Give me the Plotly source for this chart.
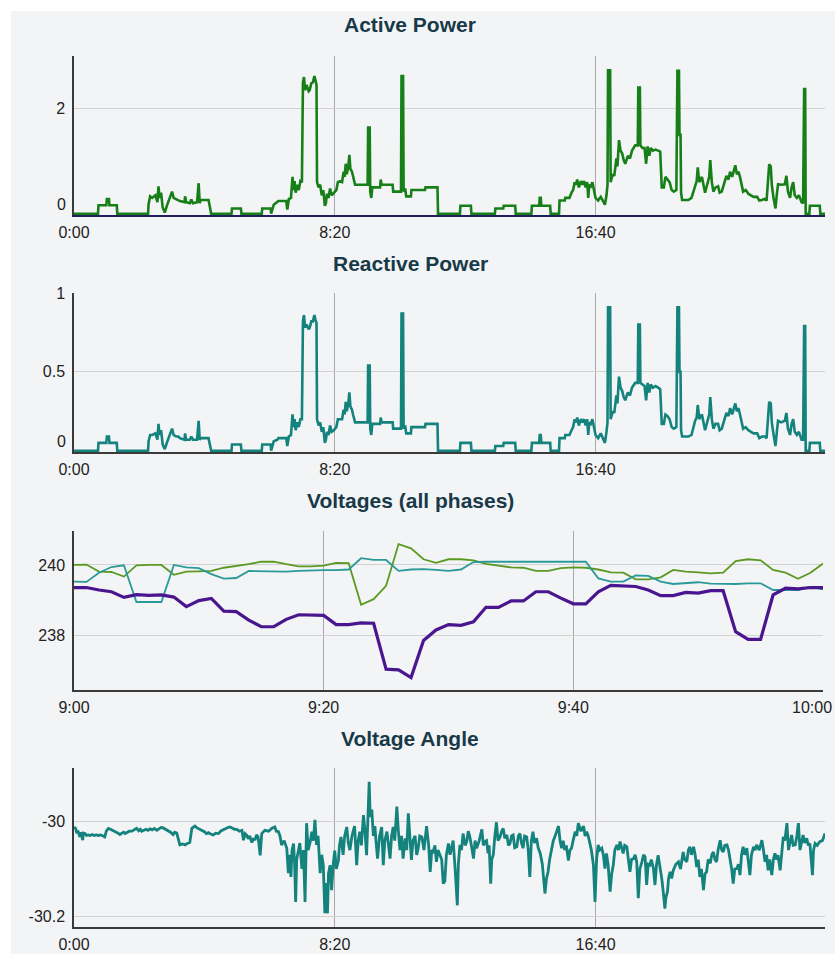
import plotly.graph_objects as go

W, H = 835, 954

# ---------------------------------------------------------------- power, one day
# minutes since midnight
power_minutes = [
    0, 46, 47, 62, 63, 67, 68, 82, 83,
    142, 143, 146, 150, 156, 160, 162, 164, 167, 170, 174, 178, 184, 188, 191, 196,
    200, 203, 212, 213, 215, 222, 225, 228, 236, 239, 241, 243, 258, 260, 263,
    302, 303, 320, 321,
    360, 361, 377, 378, 383, 390, 392, 407, 409, 412, 416, 419, 421, 423, 425, 428, 431, 434, 437,
    439, 441, 443, 446, 450, 452, 455, 458, 461, 463, 465,
    466, 469, 472, 475, 478, 481, 483, 485, 488, 491, 494, 498, 503, 506, 510, 514, 517, 519, 521, 523,
    526, 528, 530, 533, 535, 539, 563, 564, 567, 568, 570, 572, 587, 588, 590, 611, 612, 627, 628, 631,
    632, 635, 637, 646, 647, 673, 674, 697, 698,
    740, 741, 761, 762, 807, 808, 823, 824, 846, 847, 877, 878, 892, 893, 895, 896, 913, 914, 930, 931,
    941, 942, 950,
    954, 957, 960, 962, 965, 968, 972, 975, 978, 981, 984, 986, 988, 991, 994, 997, 1000, 1005, 1010, 1014,
    1018, 1021, 1023, 1024, 1028, 1029, 1033, 1036, 1040, 1042, 1045, 1048, 1051, 1054, 1057,
    1062, 1066, 1070, 1076, 1081, 1082, 1085, 1086, 1090, 1094, 1097, 1100, 1103, 1106, 1110,
    1115, 1120, 1124, 1127, 1131, 1134, 1138, 1142, 1146, 1150, 1155, 1157, 1160, 1161, 1163,
    1164, 1166, 1178, 1184,
    1191, 1194, 1196, 1199, 1204, 1207, 1210, 1214, 1218, 1220, 1223, 1226, 1230, 1235, 1238,
    1242, 1246, 1251, 1255, 1258, 1262, 1268, 1271, 1274, 1277, 1280, 1283, 1288, 1293, 1298,
    1303, 1310, 1314, 1319, 1324, 1328, 1330, 1333, 1336, 1338, 1341, 1345, 1348, 1350, 1356,
    1363, 1366, 1369, 1373, 1376, 1379, 1382, 1386, 1390, 1395, 1398, 1400, 1402, 1403, 1410,
    1411, 1430, 1431, 1440,
]

active_power = [
    0, 0, 0.16, 0.16, 0.28, 0.28, 0.16, 0.16, 0,
    0, 0.18, 0.33, 0.3, 0.35, 0.22, 0.52, 0.3, 0.4, 0.12, 0.02, 0.15, 0.3, 0.42, 0.3, 0.28,
    0.26, 0.24, 0.22, 0.33, 0.22, 0.2, 0.27, 0.2, 0.22, 0.58, 0.2, 0.26, 0.26, 0.12, 0,
    0, 0.1, 0.1, 0,
    0, 0.1, 0.1, 0, 0.17, 0.22, 0.24, 0.24, 0.08, 0.28, 0.3, 0.7, 0.45, 0.62, 0.4, 0.55, 0.45, 0.62, 0.6,
    2.5, 2.6, 2.35, 2.45, 2.33, 2.35, 2.48, 2.5, 2.62, 2.5, 2.45,
    0.6, 0.5, 0.55, 0.35, 0.45, 0.15, 0.2, 0.38, 0.3, 0.48, 0.35, 0.4, 0.45, 0.6, 0.62, 0.6, 0.8, 0.7, 0.95, 0.75,
    0.9, 1.12, 0.85, 0.8, 0.7, 0.55, 0.55, 1.64, 1.64, 0.42, 0.3, 0.5, 0.5, 0.65, 0.55, 0.55, 0.42, 0.42, 2.62, 2.62,
    0.42, 0.48, 0.33, 0.33, 0.45, 0.45, 0.5, 0.5, 0,
    0, 0.15, 0.15, 0, 0, 0.1, 0.1, 0.15, 0.15, 0, 0, 0.15, 0.15, 0.3, 0.3, 0.15, 0.15, 0, 0, 0.25,
    0.25, 0.3, 0.3,
    0.4, 0.45, 0.6, 0.55, 0.65, 0.5, 0.62, 0.55, 0.62, 0.5, 0.6, 0.3, 0.55, 0.52, 0.6, 0.45, 0.3, 0.25, 0.32, 0.25,
    0.17, 0.35, 0.55, 2.73, 2.73, 0.6, 0.75, 0.72, 1.05, 0.9, 1.4, 1.2, 1.15, 1.02, 0.95,
    1.1, 1.05, 1.2, 1.3, 1.3, 2.4, 2.4, 1.3, 1.25, 1.25, 0.95, 1.28, 1.1, 1.25, 1.2,
    1.22, 1.2, 1.18, 0.5, 0.5, 0.7, 0.65, 0.6, 0.45, 0.42, 0.45, 2.72, 2.72, 1.5, 1.5,
    0.4, 0.26, 0.26, 0.3,
    0.56, 0.62, 0.88, 0.6, 0.7, 0.55, 0.4, 0.55, 0.7, 1.02, 0.6, 0.42, 0.5, 0.52, 0.4,
    0.42, 0.55, 0.72, 0.65, 0.8, 0.7, 0.92, 0.75, 0.8, 0.7, 0.55, 0.42, 0.45, 0.38, 0.35,
    0.32, 0.32, 0.25, 0.26, 0.28, 0.25, 0.5, 0.94, 0.9, 0.55, 0.32, 0.1, 0.4, 0.56, 0.55,
    0.56, 0.72, 0.42, 0.3, 0.5, 0.6, 0.35, 0.3, 0.35, 0.22, 0.2, 2.37, 2.37, 0, 0,
    0.15, 0.15, 0, 0,
]

reactive_power = [
    0, 0, 0.05, 0.05, 0.09, 0.09, 0.05, 0.05, 0,
    0, 0.06, 0.1, 0.1, 0.11, 0.07, 0.17, 0.1, 0.13, 0.04, 0.01, 0.05, 0.1, 0.14, 0.1, 0.09,
    0.09, 0.08, 0.07, 0.11, 0.07, 0.07, 0.09, 0.07, 0.07, 0.19, 0.07, 0.08, 0.08, 0.04, 0,
    0, 0.04, 0.04, 0,
    0, 0.04, 0.04, 0, 0.06, 0.07, 0.08, 0.08, 0.03, 0.09, 0.1, 0.23, 0.15, 0.2, 0.13, 0.18, 0.15, 0.2, 0.2,
    0.82, 0.86, 0.78, 0.8, 0.77, 0.78, 0.82, 0.82, 0.86, 0.83, 0.81,
    0.2, 0.16, 0.18, 0.12, 0.15, 0.05, 0.07, 0.12, 0.1, 0.16, 0.12, 0.13, 0.15, 0.2, 0.2, 0.2, 0.26, 0.23, 0.31, 0.25,
    0.3, 0.37, 0.28, 0.26, 0.23, 0.18, 0.18, 0.54, 0.54, 0.14, 0.1, 0.17, 0.17, 0.21, 0.18, 0.18, 0.14, 0.14, 0.87, 0.87,
    0.14, 0.16, 0.11, 0.11, 0.15, 0.15, 0.17, 0.17, 0,
    0, 0.05, 0.05, 0, 0, 0.03, 0.03, 0.05, 0.05, 0, 0, 0.05, 0.05, 0.1, 0.1, 0.05, 0.05, 0, 0, 0.08,
    0.08, 0.1, 0.1,
    0.13, 0.15, 0.2, 0.18, 0.21, 0.16, 0.2, 0.18, 0.2, 0.16, 0.2, 0.1, 0.18, 0.17, 0.2, 0.15, 0.1, 0.08, 0.11, 0.08,
    0.05, 0.12, 0.18, 0.91, 0.91, 0.2, 0.25, 0.24, 0.35, 0.3, 0.47, 0.4, 0.38, 0.34, 0.32,
    0.37, 0.35, 0.4, 0.43, 0.43, 0.8, 0.8, 0.43, 0.42, 0.41, 0.32, 0.43, 0.37, 0.42, 0.4,
    0.41, 0.4, 0.39, 0.17, 0.17, 0.23, 0.22, 0.2, 0.15, 0.14, 0.15, 0.91, 0.91, 0.5, 0.5,
    0.13, 0.09, 0.09, 0.1,
    0.19, 0.21, 0.29, 0.2, 0.23, 0.18, 0.13, 0.18, 0.23, 0.34, 0.2, 0.14, 0.17, 0.17, 0.13,
    0.14, 0.18, 0.24, 0.22, 0.27, 0.23, 0.3, 0.25, 0.27, 0.23, 0.18, 0.14, 0.15, 0.13, 0.12,
    0.11, 0.11, 0.08, 0.09, 0.09, 0.08, 0.17, 0.31, 0.3, 0.18, 0.11, 0.03, 0.13, 0.19, 0.18,
    0.19, 0.24, 0.14, 0.1, 0.17, 0.2, 0.12, 0.1, 0.12, 0.07, 0.07, 0.79, 0.79, 0, 0,
    0.05, 0.05, 0, 0,
]

# ---------------------------------------------------------------- voltages, 9:00-10:00
voltage_minutes = [
    0, 1, 2, 3, 4, 5, 6, 7, 8, 9, 10, 11, 12, 13, 14, 15, 16, 17, 18, 19,
    20, 21, 22, 23, 24, 25, 26, 27, 28, 29, 30, 31, 32, 33, 34, 35, 36, 37, 38, 39,
    40, 41, 42, 43, 44, 45, 46, 47, 48, 49, 50, 51, 52, 53, 54, 55, 56, 57, 58, 59, 60,
]
voltage_l1 = [
    240.00, 240.01, 239.81, 239.80, 239.67, 239.99, 240.00, 240.00, 239.72, 239.81,
    239.82, 239.83, 239.92, 239.96, 240.02, 240.09, 240.09, 240.02, 239.96, 239.96,
    239.98, 240.06, 240.05, 238.87, 239.03, 239.41, 240.59, 240.47, 240.16, 240.06,
    240.16, 240.16, 240.13, 240.03, 239.98, 239.93, 239.92, 239.83, 239.83, 239.91,
    239.93, 239.92, 239.87, 239.79, 239.78, 239.59, 239.59, 239.65, 239.86, 239.81,
    239.79, 239.76, 239.78, 240.11, 240.16, 240.13, 239.86, 239.78, 239.61, 239.78, 240.04,
]
voltage_l2 = [
    239.53, 239.52, 239.78, 239.94, 239.99, 238.95, 238.95, 238.95, 240.00, 239.93,
    239.91, 239.74, 239.61, 239.63, 239.83, 239.82, 239.83, 239.81, 239.83, 239.85,
    239.85, 239.85, 239.87, 240.19, 240.14, 240.14, 239.83, 239.87, 239.88, 239.86,
    239.83, 239.87, 240.08, 240.09, 240.09, 240.10, 240.11, 240.11, 240.10, 240.09,
    240.10, 240.09, 239.62, 239.53, 239.53, 239.70, 239.69, 239.53, 239.46, 239.48,
    239.51, 239.47, 239.46, 239.46, 239.48, 239.48, 239.29, 239.29, 239.29, 239.38, 239.31,
]
voltage_l3 = [
    239.36, 239.36, 239.29, 239.24, 239.08, 239.16, 239.14, 239.15, 239.09, 238.82,
    238.99, 239.05, 238.69, 238.68, 238.44, 238.25, 238.25, 238.46, 238.59, 238.58,
    238.57, 238.31, 238.31, 238.36, 238.35, 237.05, 237.03, 236.81, 237.86, 238.16,
    238.31, 238.29, 238.39, 238.80, 238.80, 238.98, 238.98, 239.24, 239.24, 239.06,
    238.90, 238.90, 239.24, 239.42, 239.40, 239.39, 239.29, 239.13, 239.13, 239.22,
    239.20, 239.27, 239.27, 238.11, 237.89, 237.89, 239.15, 239.34, 239.32, 239.36, 239.36,
]

# ---------------------------------------------------------------- voltage angle, one day
angle_minutes = [
    0, 3, 5, 8, 10, 11.5, 13, 16.7, 18, 21,
    24, 27, 31, 35, 39, 43, 47, 51, 56, 59,
    62, 66, 70, 74, 79, 83, 88, 92, 95, 98,
    102, 106, 111, 115, 120, 124, 127, 130, 134, 138,
    142, 146, 150, 154, 159, 163, 167, 171, 176, 181,
    185, 190, 193, 197, 200, 203, 208, 213, 217, 222,
    226, 229, 232, 236, 240, 245, 250, 254, 258, 262,
    267, 272, 277, 281, 286, 290, 295, 299, 303, 308,
    312, 317, 322, 325, 328, 331, 334, 337, 341, 344,
    347, 350, 353, 355, 357,
    360, 366, 373, 379, 385, 388, 392, 395, 398, 403,
    408, 411, 414, 416, 418, 421, 423, 425, 427, 430,
    433, 437, 440, 443, 446, 449, 453, 456, 459, 462,
    465, 468, 472, 475, 478, 481, 483, 486, 488, 491,
    494, 497, 500, 503, 507, 509, 512, 516, 519, 523,
    526, 529, 533, 538, 542, 545, 548, 551, 555, 558,
    561, 563, 566, 568, 571, 574, 577, 579, 582, 586,
    590, 593, 596, 600, 603, 606, 609, 612, 615, 619,
    622, 625, 628, 631, 635, 638, 641, 644, 647, 650,
    654, 657, 660, 663, 667, 671, 676, 680, 683, 686,
    689, 692, 695, 698, 702, 705, 708,
    711, 714, 718, 721, 724, 727, 731, 735, 737, 740,
    743, 746, 750, 753, 756, 759, 762, 766, 769, 772,
    777, 782, 785, 788, 791, 794, 796, 799, 801, 804,
    807, 810, 813, 817, 820, 823, 826, 830, 833, 836,
    839, 842, 845, 849, 852, 855, 858, 861, 864, 868,
    871, 874, 877, 880, 883, 887, 890, 894, 898, 903,
    906, 909, 912, 916, 919, 922, 925, 929, 932, 935,
    938, 941, 944, 948, 951, 954, 957, 961, 964, 967,
    972, 977, 980, 983, 986, 989, 992, 996, 999, 1002,
    1005, 1008, 1012, 1015, 1018, 1021, 1024, 1028, 1031, 1034,
    1037, 1041, 1044, 1047, 1050, 1053, 1056, 1060, 1063, 1066,
    1069, 1073, 1076, 1079, 1082, 1085, 1089, 1092, 1095, 1098,
    1101, 1104, 1107, 1111, 1114, 1117, 1120, 1123, 1127, 1130,
    1133, 1135, 1138, 1140, 1143, 1146, 1149, 1154, 1159, 1163,
    1168, 1171, 1175, 1178, 1181, 1184, 1188, 1191, 1194, 1197,
    1200, 1203, 1207, 1210, 1213, 1216, 1220, 1223, 1226, 1229,
    1232, 1235, 1239, 1242, 1245, 1248, 1252, 1255, 1258, 1261,
    1264, 1267, 1271, 1274, 1277, 1280, 1283, 1286, 1290, 1293,
    1296, 1299, 1303, 1306, 1309, 1314, 1319, 1322, 1325, 1328,
    1331, 1334, 1338, 1341, 1344, 1347, 1350, 1354, 1357, 1360,
    1363, 1367, 1370, 1373, 1376, 1379, 1383, 1386, 1389, 1392,
    1395, 1398, 1401, 1405, 1408, 1411, 1416, 1418, 1421, 1425,
    1430, 1435, 1440,
]
voltage_angle = [
    -30.011, -30.014, -30.022, -30.021, -30.028, -30.032, -30.022, -30.039, -30.024, -30.025,
    -30.029, -30.028, -30.029, -30.027, -30.029, -30.028, -30.029, -30.028, -30.030, -30.032,
    -30.020, -30.014, -30.016, -30.019, -30.021, -30.023, -30.027, -30.024, -30.022, -30.025,
    -30.022, -30.020, -30.020, -30.017, -30.014, -30.019, -30.016, -30.020, -30.018, -30.016,
    -30.018, -30.015, -30.017, -30.014, -30.018, -30.015, -30.012, -30.013, -30.016, -30.018,
    -30.022, -30.027, -30.022, -30.024, -30.035, -30.049, -30.047, -30.049, -30.046, -30.044,
    -30.014, -30.011, -30.009, -30.013, -30.015, -30.018, -30.021, -30.025, -30.023, -30.026,
    -30.028, -30.024, -30.025, -30.020, -30.018, -30.015, -30.012, -30.011, -30.013, -30.016,
    -30.016, -30.020, -30.018, -30.039, -30.025, -30.028, -30.036, -30.030, -30.044, -30.035,
    -30.039, -30.028, -30.032, -30.050, -30.071,
    -30.025, -30.018, -30.020, -30.014, -30.011, -30.020, -30.021, -30.030, -30.049, -30.040,
    -30.056, -30.109, -30.070, -30.117, -30.060, -30.046, -30.090, -30.170, -30.080, -30.065,
    -30.045, -30.100, -30.060, -30.170, -30.003, -30.060, -30.042, -30.021, -30.040, -29.996,
    -30.049, -30.030, -30.109, -30.070, -30.092, -30.194, -30.130, -30.194, -30.110, -30.092,
    -30.145, -30.090, -30.061, -30.100, -30.082, -30.050, -30.032, -30.070, -30.030, -30.011,
    -30.045, -30.060, -30.030, -30.009, -30.092, -30.040, -30.021, -30.050, -29.986, -30.020,
    -30.071, -30.010, -29.915, -29.990, -29.974, -30.030, -30.009, -30.040, -30.078, -30.030,
    -30.011, -30.092, -30.040, -30.021, -30.050, -30.078, -30.030, -30.011, -30.040, -29.968,
    -30.020, -30.060, -30.030, -30.078, -30.035, -30.060, -29.982, -30.040, -30.081, -30.040,
    -30.030, -30.070, -30.056, -30.030, -30.032, -30.060, -30.009, -30.050, -30.106, -30.060,
    -30.063, -30.050, -30.085, -30.060, -30.071, -30.080, -30.131,
    -30.126, -30.070, -30.046, -30.070, -30.053, -30.040, -30.103, -30.177, -30.090, -30.049,
    -30.060, -30.025, -30.050, -30.042, -30.020, -30.032, -30.050, -30.078, -30.040, -30.056,
    -30.040, -30.016, -30.050, -30.042, -30.040, -30.067, -30.050, -30.131, -30.080, -30.070,
    -30.030, -30.001, -30.040, -30.032, -30.020, -30.014, -30.035, -30.028, -30.050, -30.046,
    -30.030, -30.028, -30.055, -30.053, -30.030, -30.025, -30.045, -30.056, -30.030, -30.032,
    -30.060, -30.117, -30.040, -30.021, -30.045, -30.035, -30.055, -30.067, -30.090, -30.152,
    -30.120, -30.106, -30.080, -30.056, -30.040, -30.032, -30.020, -30.009, -30.040, -30.056,
    -30.040, -30.060, -30.050, -30.082, -30.060, -30.056, -30.040, -30.021, -30.030, -30.003,
    -30.020, -30.009, -30.030, -30.021, -30.030, -30.042, -30.060, -30.092, -30.170, -30.080,
    -30.049, -30.060, -30.056, -30.070, -30.099, -30.067, -30.090, -30.148, -30.110, -30.092,
    -30.060, -30.049, -30.060, -30.042, -30.055, -30.067, -30.050, -30.053, -30.080, -30.106,
    -30.080, -30.078, -30.070, -30.085, -30.162, -30.100, -30.085, -30.070, -30.074, -30.134,
    -30.090, -30.092, -30.080, -30.099, -30.134, -30.090, -30.071, -30.090, -30.120, -30.150,
    -30.184, -30.160, -30.148, -30.120, -30.106, -30.120, -30.103, -30.090, -30.085, -30.100,
    -30.064, -30.080, -30.085, -30.060, -30.053, -30.070, -30.053, -30.070, -30.096, -30.080,
    -30.117, -30.100, -30.145, -30.110, -30.106, -30.080, -30.088, -30.070, -30.064, -30.080,
    -30.085, -30.060, -30.039, -30.060, -30.064, -30.050, -30.049, -30.060, -30.078, -30.100,
    -30.131, -30.100, -30.099, -30.090, -30.113, -30.070, -30.053, -30.070, -30.056, -30.080,
    -30.113, -30.070, -30.053, -30.060, -30.049, -30.060, -30.039, -30.060, -30.085, -30.070,
    -30.103, -30.080, -30.113, -30.080, -30.067, -30.080, -30.071, -30.103, -30.060, -30.032,
    -30.040, -30.003, -30.060, -30.040, -30.028, -30.050, -30.049, -30.030, -30.003, -30.060,
    -30.040, -30.028, -30.045, -30.035, -30.050, -30.046, -30.113, -30.060, -30.046, -30.050,
    -30.042, -30.040, -30.025,
]

day_ticks = [0, 500, 1000]
day_tick_text = ["0:00", "8:20", "16:40"]
hour_ticks = [0, 20, 40, 60]
hour_tick_text = ["9:00", "9:20", "9:40", "10:00"]

titles = ["Active Power", "Reactive Power", "Voltages (all phases)", "Voltage Angle"]

# ---------------------------------------------------------------- layout helpers
FONT = "Liberation Sans, Arial, Helvetica, sans-serif"
TICK_FONT = dict(family=FONT, size=16, color="#222222")


def fx(px):
    return px / W


def fy(px):
    return 1 - px / H


# pixel boxes of the four panels: (left, right, top, bottom)
boxes = [(74, 825, 56, 215), (74, 825, 293, 452), (74, 823, 531, 690), (74, 825, 768, 927)]
title_y = [25, 263, 500, 738]

fig = go.Figure()

fig.add_trace(go.Scatter(x=power_minutes, y=active_power, mode="lines",
                         line=dict(color="#177f17", width=2.6), xaxis="x", yaxis="y"))
fig.add_trace(go.Scatter(x=power_minutes, y=reactive_power, mode="lines",
                         line=dict(color="#14827d", width=2.6), xaxis="x2", yaxis="y2"))
fig.add_trace(go.Scatter(x=voltage_minutes, y=voltage_l1, mode="lines",
                         line=dict(color="#5b9a22", width=1.8), xaxis="x3", yaxis="y3"))
fig.add_trace(go.Scatter(x=voltage_minutes, y=voltage_l2, mode="lines",
                         line=dict(color="#2a9a98", width=1.8), xaxis="x3", yaxis="y3"))
fig.add_trace(go.Scatter(x=voltage_minutes, y=voltage_l3, mode="lines",
                         line=dict(color="#4a1690", width=3.2), xaxis="x3", yaxis="y3"))
fig.add_trace(go.Scatter(x=angle_minutes, y=voltage_angle, mode="lines",
                         line=dict(color="#14827d", width=2.8), xaxis="x4", yaxis="y4"))

y_ranges = [[-0.025, 3.0], [-0.008, 1.0], [236.46, 240.96], [-30.223, -29.886]]
y_ticks = [[2], [0.5, 1], [238, 240], [-30.2, -30]]
y_text = [["2"], ["0.5", "1"], ["238", "240"], ["-30.2", "-30"]]
x_ranges = [[0, 1440], [0, 1440], [0, 60], [0, 1440]]
x_ticks = [day_ticks, day_ticks, hour_ticks, day_ticks]
# the last hour label is pulled inside the page edge, drawn separately below
x_text = [day_tick_text, day_tick_text, hour_tick_text[:-1] + [""], day_tick_text]

layout = dict(
    width=W, height=H,
    margin=dict(l=0, r=0, t=0, b=0, autoexpand=False),
    paper_bgcolor="white",
    plot_bgcolor="rgba(0,0,0,0)",
    showlegend=False,
    font=dict(family=FONT),
)

annotations = []
for i, (l, r, t, b) in enumerate(boxes):
    sfx = "" if i == 0 else str(i + 1)
    layout["xaxis" + sfx] = dict(
        domain=[fx(l), fx(r)], range=x_ranges[i], anchor="y" + sfx, automargin=False,
        tickmode="array", tickvals=x_ticks[i], ticktext=x_text[i],
        showline=True, linecolor="#1f1f5e" if i == 0 else "#3a3a3a", linewidth=1.5,
        showgrid=True, gridcolor="#a9a9a9", gridwidth=1, zeroline=False,
        ticks="", ticklabelstandoff=2, ticklabeloverflow="allow",
        tickfont=TICK_FONT, fixedrange=True,
    )
    layout["yaxis" + sfx] = dict(
        domain=[fy(b), fy(t)], range=y_ranges[i], anchor="x" + sfx, automargin=False,
        tickmode="array", tickvals=y_ticks[i], ticktext=y_text[i],
        showline=True, linecolor="#3a3a3a", linewidth=1.5,
        showgrid=True, gridcolor="#d2d2d2", gridwidth=1, zeroline=False,
        ticks="", ticklabelstandoff=4, ticklabeloverflow="allow",
        tickfont=TICK_FONT, fixedrange=True,
    )
    annotations.append(dict(
        text=titles[i], xref="paper", yref="paper", x=fx(410), y=fy(title_y[i]),
        xanchor="center", yanchor="middle", showarrow=False,
        font=dict(family=FONT, size=21, color="#183a48", weight="bold"),
    ))

# zero labels of the power panels sit a little above the baseline
for sfx in ["", "2"]:
    annotations.append(dict(
        text="0", xref="paper", yref="y" + sfx, x=fx(74), y=0, xanchor="right", yanchor="middle",
        xshift=-6, yshift=9, showarrow=False, font=TICK_FONT,
    ))

# closing hour label, kept inside the right edge
annotations.append(dict(
    text=hour_tick_text[-1], xref="paper", yref="paper", x=fx(834), y=fy(707),
    xanchor="right", yanchor="middle", showarrow=False, font=TICK_FONT,
))

layout["annotations"] = annotations
layout["shapes"] = [dict(
    type="rect", xref="paper", yref="paper", x0=fx(11), x1=1, y0=0, y1=fy(11),
    fillcolor="#f3f4f6", line=dict(width=0), layer="below",
)]

fig.update_layout(**layout)
fig.write_html("out.html")
